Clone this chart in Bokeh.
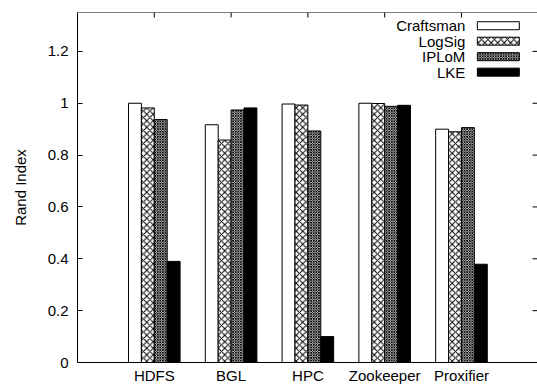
import math
from bokeh.plotting import figure
from bokeh.models import FixedTicker, NumeralTickFormatter, Range1d, Span
from bokeh.core.properties import value
from bokeh.embed import file_html
from bokeh.resources import INLINE

# ---- data -------------------------------------------------------------
systems = ["HDFS", "BGL", "HPC", "Zookeeper", "Proxifier"]
craftsman = [1.000, 0.917, 0.997, 1.000, 0.900]
logsig = [0.982, 0.858, 0.993, 0.999, 0.890]
iplom = [0.937, 0.974, 0.893, 0.988, 0.906]
lke = [0.390, 0.982, 0.100, 0.992, 0.379]
series_names = ["Craftsman", "LogSig", "IPLoM", "LKE"]
y_ticks = [0, 0.2, 0.4, 0.6, 0.8, 1, 1.2]

# ---- style ------------------------------------------------------------
FONT = value("Liberation Sans")
FS = "15px"
styles = [
    dict(fill_color="white", hatch_pattern=None, hatch_scale=6),
    dict(fill_color="white", hatch_pattern="diagonal_cross", hatch_scale=6.5),
    dict(fill_color="white", hatch_pattern="diagonal_cross", hatch_scale=2.6),
    dict(fill_color="black", hatch_pattern=None, hatch_scale=6),
]
BAR_W = 0.168
X_END = 5.99
Y_END = 1.35

positions = list(range(1, len(systems) + 1))

p = figure(width=537, height=386, output_backend="svg", toolbar_location=None,
           x_range=Range1d(0, X_END), y_range=Range1d(0, Y_END),
           min_border_left=77, min_border_right=0, min_border_top=12,
           min_border_bottom=24)
p.xgrid.visible = False
p.ygrid.visible = False
p.outline_line_color = None
p.background_fill_color = "white"
p.border_fill_color = "white"

all_series = [craftsman, logsig, iplom, lke]
for i, (vals, st) in enumerate(zip(all_series, styles)):
    xs = [pos + (i - 1.5) * BAR_W for pos in positions]
    kw = dict(x=xs, top=vals, bottom=0, width=BAR_W, line_color="black",
              line_width=1, fill_color=st["fill_color"])
    if st["hatch_pattern"]:
        kw.update(hatch_pattern=st["hatch_pattern"], hatch_scale=st["hatch_scale"],
                  hatch_color="black", hatch_weight=1)
    p.vbar(**kw)

# ---- axes -------------------------------------------------------------
xa = p.xaxis[0]
xa.ticker = FixedTicker(ticks=positions)
xa.major_label_overrides = {pos: name for pos, name in zip(positions, systems)}
xa.major_tick_in = 5
xa.major_tick_out = 0
xa.minor_tick_line_color = None
xa.major_label_standoff = 4
xa.major_label_text_font = "Liberation Sans"
xa.major_label_text_font_size = FS
xa.major_label_text_color = "black"
xa.axis_line_color = "black"

ya = p.yaxis[0]
ya.ticker = FixedTicker(ticks=y_ticks)
ya.formatter = NumeralTickFormatter(format="0.[0]")
ya.major_tick_in = 5
ya.major_tick_out = 0
ya.minor_tick_line_color = None
ya.major_label_standoff = 9
ya.major_label_text_font = "Liberation Sans"
ya.major_label_text_font_size = FS
ya.major_label_text_color = "black"
ya.axis_label = "Rand Index"
ya.axis_label_text_font = "Liberation Sans"
ya.axis_label_text_font_size = FS
ya.axis_label_text_font_style = "normal"
ya.axis_label_text_color = "black"
ya.axis_label_standoff = 16
ya.axis_line_color = "black"

# top border with mirrored (inward) ticks, right-side mirrored y ticks
p.add_layout(Span(location=Y_END, dimension="width", line_color="black",
                  line_width=1))
p.ray(x=positions, y=[Y_END] * len(positions), length=5, angle=-math.pi / 2,
      length_units="screen", line_color="black", line_width=1)
p.ray(x=[X_END] * len(y_ticks), y=y_ticks, length=5, angle=math.pi,
      length_units="screen", line_color="black", line_width=1)

# ---- legend (text left, swatch right) ----------------------------------
LEG_TEXT_X = 5.05
LEG_SW_X = 5.48
LEG_Y0 = 1.299
LEG_STEP = 0.0597
for i, (name, st) in enumerate(zip(series_names, styles)):
    yy = LEG_Y0 - i * LEG_STEP
    p.text(x=[LEG_TEXT_X], y=[yy], text=[name], text_align="right",
           text_baseline="middle", text_font=FONT, text_font_size=FS,
           text_color="black")
    kw = dict(x=[LEG_SW_X], y=[yy], width=42, height=8, width_units="screen",
              height_units="screen", line_color="black", line_width=1,
              fill_color=st["fill_color"])
    if st["hatch_pattern"]:
        kw.update(hatch_pattern=st["hatch_pattern"], hatch_scale=st["hatch_scale"],
                  hatch_color="black", hatch_weight=1)
    p.rect(**kw)

open("out.html", "w").write(file_html(p, INLINE))
